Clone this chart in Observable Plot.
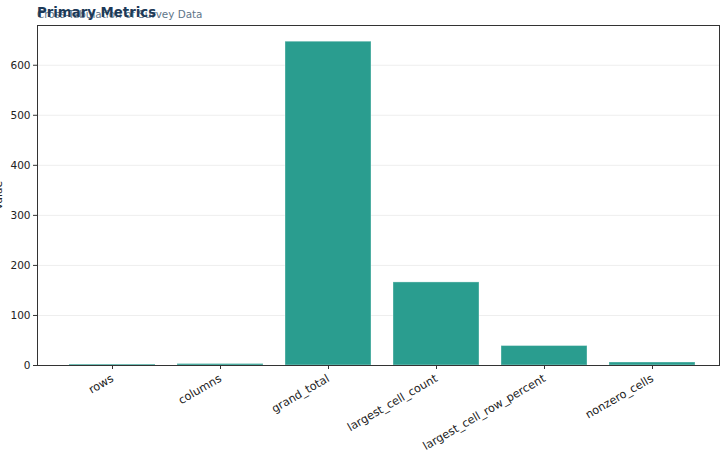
<!DOCTYPE html>
<html>
<head>
<meta charset="utf-8">
<script src="https://cdn.jsdelivr.net/npm/d3@7"></script>
<script src="https://cdn.jsdelivr.net/npm/@observablehq/plot@0.6"></script>
<style>
  html, body { margin: 0; padding: 0; background: #fff; }
  #wrap { position: relative; width: 720px; height: 460px; overflow: hidden; font-family: "DejaVu Sans", sans-serif; }
  #title { position: absolute; left: 37px; top: 5px; font-size: 13.3px; font-weight: bold; color: #1d3a58; white-space: nowrap; z-index: 2; }
  #subtitle { position: absolute; left: 37px; top: 8px; font-size: 10.4px; color: #5f7689; white-space: nowrap; z-index: 1; }
  #chart { position: absolute; left: 0; top: 0; }
</style>
</head>
<body>
<div id="wrap">
  <div id="chart"></div>
  <div id="subtitle">Cross-Tabulation of Survey Data</div>
  <div id="title">Primary Metrics</div>
</div>
<script>
const categories = ["rows", "columns", "grand_total", "largest_cell_count", "largest_cell_row_percent", "nonzero_cells"];
const values = [2, 3, 647, 166, 38.9, 6];
const yTicks = [0, 100, 200, 300, 400, 500, 600];

const data = categories.map((c, i) => ({ metric: c, value: values[i] }));

const chart = Plot.plot({
  width: 720,
  height: 460,
  marginLeft: 37,
  marginRight: 1,
  marginTop: 25,
  marginBottom: 95,
  style: { fontFamily: "DejaVu Sans, sans-serif", fontSize: "10.5px", color: "#222", background: "#fff", overflow: "visible" },
  x: { domain: categories, paddingInner: 0.2, paddingOuter: 0.246, align: 0.58, label: null },
  y: { domain: [0, 679.4], ticks: yTicks, label: "Value", labelAnchor: "center", labelArrow: "none", labelOffset: 43 },
  marks: [
    Plot.gridY(yTicks, { stroke: "#eeeeee", strokeOpacity: 1 }),
    Plot.barY(data, { x: "metric", y: "value", fill: "#2a9d8f", stroke: "white", strokeOpacity: 0.35, strokeWidth: 1 }),
    Plot.axisY(yTicks, { tickSize: 4, tickPadding: 3, stroke: "#333", fontSize: 10.5, fill: "#222", label: "Value", labelAnchor: "center", labelArrow: "none", labelOffset: 43 }),
    Plot.axisX({ tickSize: 4, tickPadding: 8, tickRotate: -30, stroke: "#333", fontSize: 11.3, fill: "#222", label: null }),
    Plot.frame({ stroke: "#333", strokeWidth: 1 })
  ]
});
document.getElementById("chart").appendChild(chart);
</script>
</body>
</html>
